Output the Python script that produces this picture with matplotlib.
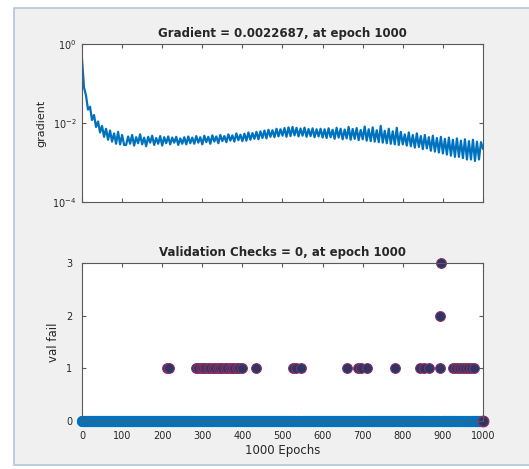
import numpy as np
import matplotlib.pyplot as plt
from matplotlib.patches import Rectangle

grad_epochs = np.arange(0, 1001, 5)
gradient = [
    0.42, 0.08, 0.05, 0.022, 0.026, 0.012, 0.016, 0.008, 0.011, 0.0058,
    0.0085, 0.0045, 0.0072, 0.0038, 0.0065, 0.0034, 0.0055, 0.0030, 0.0060, 0.0029,
    0.0050, 0.0028,
    0.0028, 0.0046, 0.0030, 0.0050, 0.0027, 0.0044, 0.0031, 0.0052, 0.0029, 0.0043,
    0.0026, 0.0045, 0.0032, 0.0048, 0.0028, 0.0042, 0.0030, 0.0047, 0.0027, 0.0044,
    0.0031, 0.0046, 0.0029, 0.0043, 0.0032, 0.0045, 0.0028, 0.0041, 0.0030, 0.0044,
    0.0029, 0.0046, 0.0031, 0.0043, 0.0030, 0.0047, 0.0032, 0.0044, 0.0029, 0.0048,
    0.0033, 0.0045, 0.0030, 0.0049, 0.0034, 0.0046, 0.0031, 0.0050, 0.0035, 0.0047,
    0.0033, 0.0052, 0.0036, 0.0049, 0.0034, 0.0055, 0.0037, 0.0051, 0.0035,
    0.0054, 0.0036, 0.0058, 0.0038, 0.0056, 0.0040, 0.0060, 0.0039, 0.0062, 0.0042,
    0.0065, 0.0041, 0.0068, 0.0045, 0.0066, 0.0044, 0.0072, 0.0046, 0.0070, 0.0048,
    0.0075, 0.0045, 0.0078, 0.0047, 0.0080, 0.0049, 0.0076, 0.0046, 0.0073, 0.0048,
    0.0077, 0.0045, 0.0071, 0.0047, 0.0074, 0.0044, 0.0070, 0.0046, 0.0072, 0.0043,
    0.0070, 0.0042, 0.0074, 0.0044, 0.0068, 0.0040, 0.0076, 0.0043, 0.0072, 0.0039,
    0.0069, 0.0041, 0.0080, 0.0038, 0.0071, 0.0040, 0.0075, 0.0037, 0.0067, 0.0039,
    0.0082, 0.0036, 0.0070, 0.0035, 0.0078, 0.0034, 0.0066, 0.0033, 0.0085, 0.0032,
    0.0064, 0.0031, 0.0072, 0.0030, 0.0062, 0.0029, 0.0076, 0.0028, 0.0060, 0.0029,
    0.0052, 0.0027, 0.0058, 0.0026, 0.0050, 0.0024, 0.0055, 0.0025, 0.0047, 0.0022,
    0.0050, 0.0023, 0.0044, 0.0020, 0.0048, 0.0019, 0.0042, 0.0018, 0.0045, 0.0017,
    0.0040, 0.0016, 0.0043, 0.0015, 0.0038, 0.0014, 0.0041, 0.0014, 0.0036, 0.0013,
    0.0039, 0.0012, 0.0035, 0.0012, 0.0038, 0.0011, 0.0034, 0.0012, 0.0033, 0.0022687,
]

# validation failures: epochs where the count was 1, 2 or 3 (else 0)
fail1_epochs = [213, 218, 284, 290, 296, 302, 308, 314, 320, 326, 332, 338, 344,
                350, 356, 362, 368, 374, 380, 386, 392, 398, 434, 526, 533, 545,
                660, 688, 697, 712, 780, 843, 852, 866, 893, 925, 932, 940, 948,
                955, 962, 970, 978]
fail2_epochs = [894]
fail3_epochs = [895]

epochs = np.arange(0, 1001)
val_fail = np.zeros(len(epochs))
val_fail[fail1_epochs] = 1
val_fail[fail2_epochs] = 2
val_fail[fail3_epochs] = 3

blue = '#0072BD'
txt = '#262626'

fig = plt.figure(figsize=(5.29, 4.69), dpi=100, facecolor='white')
fig.patches.append(Rectangle((14 / 529, 1 - 465 / 469), 1, (465 - 8) / 469,
                             transform=fig.transFigure, facecolor='#f0f0f0',
                             edgecolor='#b4c6d8', linewidth=1.2, zorder=-5))

ax1 = fig.add_axes([0.155, 0.569, 0.758, 0.337])
ax2 = fig.add_axes([0.155, 0.102, 0.758, 0.337])

# Gradient
ax1.semilogy(grad_epochs, gradient, color=blue, linewidth=1.6)
ax1.set_xlim(0, 1000)
ax1.set_ylim(1e-4, 1)
ax1.set_yticks([1e-4, 1e-2, 1e0])
ax1.minorticks_off()
ax1.set_xticks(np.arange(0, 1001, 100))
ax1.set_xticklabels([])
ax1.set_ylabel('gradient', fontsize=8, color=txt)
ax1.set_title('Gradient = 0.0022687, at epoch 1000', fontsize=8.5,
              fontweight='bold', color=txt, pad=5)

# Validation checks
zero = val_fail == 0
ax2.plot(epochs[zero], val_fail[zero], 'o', color=blue, markersize=8,
         markeredgewidth=0, clip_on=False)
ax2.plot(epochs[~zero], val_fail[~zero], 'o', markerfacecolor='#2d3466',
         markeredgecolor='#8a3060', markersize=7, markeredgewidth=0.8,
         clip_on=False)
ax2.plot([1000], [0], 'o', markerfacecolor='#2d3466', markeredgecolor='#8a3060',
         markersize=7.5, clip_on=False)
ax2.set_xlim(0, 1000)
ax2.set_ylim(0, 3)
ax2.set_yticks([0, 1, 2, 3])
ax2.set_xticks(np.arange(0, 1001, 100))
ax2.set_ylabel('val fail', fontsize=8.5, color=txt)
ax2.set_xlabel('1000 Epochs', fontsize=8.5, color=txt, labelpad=2)
ax2.set_title('Validation Checks = 0, at epoch 1000', fontsize=8.5,
              fontweight='bold', color=txt, pad=5)

for ax in (ax1, ax2):
    ax.set_facecolor('white')
    for s in ax.spines.values():
        s.set_color('#5a5a5a')
        s.set_linewidth(0.8)
    ax.tick_params(direction='in', top=True, right=True, length=3,
                   labelsize=7, colors='#5a5a5a', labelcolor=txt, pad=4)
ax2.tick_params(axis='y', pad=7)
ax2.tick_params(axis='x', pad=7)

fig.savefig('out.png', dpi=100, facecolor=fig.get_facecolor())
